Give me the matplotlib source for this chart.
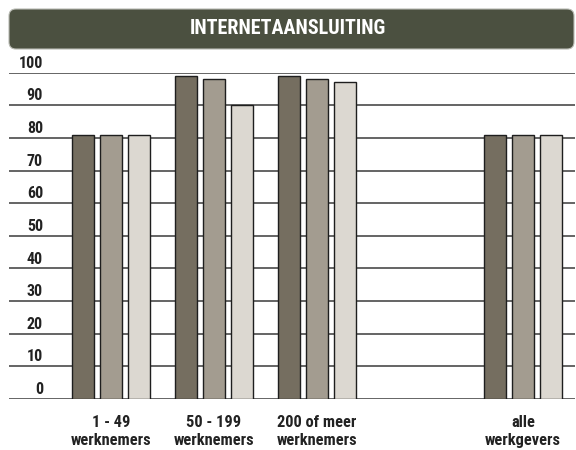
import matplotlib
matplotlib.use("Agg")
import matplotlib.pyplot as plt
from matplotlib.patches import FancyBboxPatch
from matplotlib import font_manager
import numpy as np

categories = ["1 - 49\nwerknemers", "50 - 199\nwerknemers", "200 of meer\nwerknemers", "", "alle\nwerkgevers"]
series_a = [81, 99, 99, None, 81]
series_b = [81, 98, 98, None, 81]
series_c = [81, 90, 97, None, 81]
y_ticks = [0, 10, 20, 30, 40, 50, 60, 70, 80, 90, 100]
title = "INTERNETAANSLUITING"

colors = ["#756e60", "#a39c90", "#dcd8d1"]

names = {f.name for f in font_manager.fontManager.ttflist}
fam = [f for f in ["Liberation Sans Narrow", "Roboto Condensed", "Liberation Sans"] if f in names] + ["DejaVu Sans"]
plt.rcParams['font.family'] = fam

fig = plt.figure(figsize=(5.76, 4.5), dpi=100)
ax_left, ax_right = 9, 575
ax = fig.add_axes([ax_left/576, 1-399/450, (ax_right-ax_left)/576, (399-72.7)/450])

x = np.arange(len(categories))
w = 0.215
off = 0.268
for i, (vals, c) in enumerate(zip([series_a, series_b, series_c], colors)):
    xs = [xi + (i-1)*off for xi, v in zip(x, vals) if v is not None]
    vs = [v for v in vals if v is not None]
    ax.bar(xs, vs, width=w, color=c, edgecolor="#1e1e1e", linewidth=1.0, zorder=3)

lab_x = (43 - ax_left) / (ax_right - ax_left)
for t in y_ticks:
    ax.axhline(t, color="#3a3a3a", linewidth=1.1, zorder=1)
    ax.text(lab_x, t + 0.6, str(t), transform=ax.get_yaxis_transform(), ha="right", va="bottom",
            fontsize=11.5, fontweight="bold", color="#222222")
ax.set_xlim(-0.99, 4.505)
ax.set_ylim(0, 100)
for s in ax.spines.values():
    s.set_visible(False)
ax.set_xticks([])
ax.set_yticks([])

for xi, cat in zip(x, categories):
    if cat:
        ax.text(xi, -4.8, cat, ha="center", va="top", fontsize=11.8, fontweight="bold",
                color="#222222", linespacing=1.3)

# title bar
bar = FancyBboxPatch((9/576, 1-49/450), (574-9)/576, (49-9)/450,
                     boxstyle="round,pad=0,rounding_size=0.012",
                     transform=fig.transFigure, facecolor="#4b5040", edgecolor="#b8bab2",
                     linewidth=0.8, mutation_aspect=576/450)
fig.patches.append(bar)
fig.text(0.5, 1-29/450, title, ha="center", va="center", color="white",
         fontsize=14.5, fontweight="bold")

fig.savefig("out.png", dpi=100)
